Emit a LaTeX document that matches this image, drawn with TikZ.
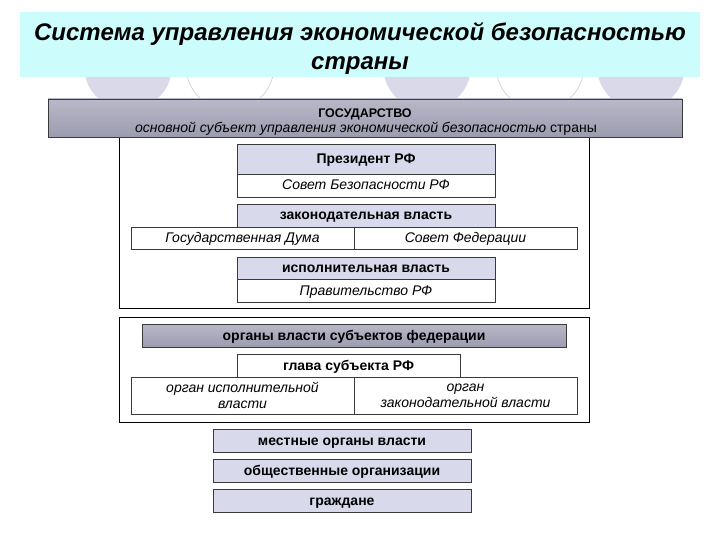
\documentclass[tikz,border=0pt]{standalone}
\usepackage{fontspec}
\setmainfont{Liberation Sans}
\definecolor{band}{HTML}{CCFCFC}
\definecolor{lav}{HTML}{D9D9EC}
\definecolor{circfill}{HTML}{D9D9EA}
\definecolor{circline}{HTML}{D6D6D6}
\definecolor{boxline}{HTML}{3A3A3A}
\definecolor{gtop}{HTML}{B8B8C8}
\definecolor{gmid}{HTML}{D6D6E2}
\definecolor{gbot}{HTML}{9C9CB0}
\begin{document}
\begin{tikzpicture}[x=1pt,y=-1pt,
  bx/.style={draw=boxline, line width=0.8pt, inner sep=0pt, outer sep=0pt, anchor=north west},
  one/.style={text height=11pt, text depth=2pt},
  hdr/.style={bx, one, fill=lav, font=\bfseries\fontsize{14}{16}\selectfont},
  whb/.style={bx, one, fill=white, font=\bfseries\fontsize{14}{16}\selectfont},
  cell/.style={bx, one, fill=white, font=\itshape\fontsize{14}{16}\selectfont},
  cell2/.style={bx, align=center, fill=white, font=\itshape\fontsize{14}{16}\selectfont},
  grad/.style={bx, top color=gtop, middle color=gmid, bottom color=gbot},
  lbl/.style={inner sep=0pt, text height=10pt, text depth=3pt},
  frame/.style={draw=black, line width=0.8pt, inner sep=0pt, outer sep=0pt, anchor=north west},
  circf/.style={fill=circfill},
  circo/.style={draw=circline, line width=0.8pt}]
\useasboundingbox (0,0) rectangle (720,540);
\fill[white] (0,0) rectangle (720,540);
% decorative circles
\fill[circf] (128,66) circle (44);
\draw[circo] (230,66) circle (44);
\fill[circf] (427,66) circle (44);
\draw[circo] (540,66) circle (44);
\fill[circf] (641,66) circle (44);
% title band
\node[fill=band, inner sep=0pt, anchor=north west, minimum width=680, minimum height=65] (band) at (20,12) {};
\node[align=center, inner sep=0pt, font=\bfseries\itshape\fontsize{24}{29}\selectfont] (title) at (360,49)
  {Система управления экономической безопасностью\\страны};
% frames
\node[frame, minimum width=470, minimum height=171] (frame1) at (119,137) {};
\node[frame, minimum width=470, minimum height=105] (frame2) at (119,317) {};
% state
\node[grad, minimum width=634, minimum height=38] (gos) at (48,99) {};
\node[lbl, font=\bfseries\fontsize{12.5}{15}\selectfont] (gosa) at (365,114) {ГОСУДАРСТВО};
\node[lbl, font=\fontsize{14}{16}\selectfont] (gosb) at (366,129.5)
  {\itshape основной субъект управления экономической безопасностью \upshape страны};
% federal level
\node[hdr, minimum width=258, minimum height=30] (pres) at (237,144) {Президент РФ};
\node[cell, minimum width=258, minimum height=23] (sovbez) at (237,174) {Совет Безопасности РФ};
\node[hdr, minimum width=258, minimum height=23] (zak) at (237,204) {законодательная власть};
\node[cell, minimum width=223, minimum height=22] (duma) at (131,227) {Государственная Дума};
\node[cell, minimum width=223, minimum height=22] (fed) at (354,227) {Совет Федерации};
\node[hdr, minimum width=258, minimum height=22] (isp) at (237,257) {исполнительная власть};
\node[cell, minimum width=258, minimum height=23] (prav) at (237,279) {Правительство РФ};
% subjects of federation
\node[grad, one, minimum width=424, minimum height=23, font=\bfseries\fontsize{14}{16}\selectfont] (subj) at (142,324) {органы власти субъектов федерации};
\node[whb, minimum width=223, minimum height=23] (glava) at (237,354) {глава субъекта РФ};
\node[cell2, minimum width=223, minimum height=37] (orgisp) at (131,377) {орган исполнительной\\власти};
\node[cell2, minimum width=223, minimum height=37] (orgzak) at (354,377) {орган\\законодательной власти};
% others
\node[hdr, minimum width=258, minimum height=23] (mest) at (213,429) {местные органы власти};
\node[hdr, minimum width=258, minimum height=23] (obsh) at (213,459) {общественные организации};
\node[hdr, minimum width=258, minimum height=23] (grazh) at (213,489) {граждане};
\end{tikzpicture}
\end{document}
